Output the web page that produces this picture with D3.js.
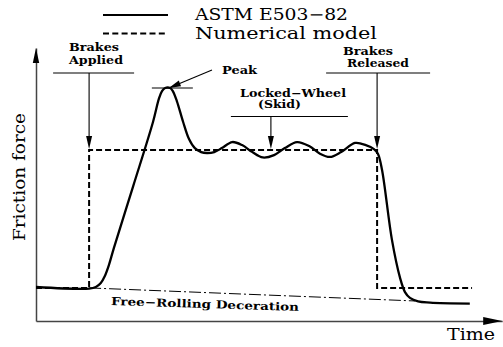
<!DOCTYPE html>
<html>
<head>
<meta charset="utf-8">
<script src="https://cdn.jsdelivr.net/npm/d3@7"></script>
<style>
  html, body { margin: 0; padding: 0; background: #fff; }
  svg { display: block; }
  text { font-family: "DejaVu Serif", serif; fill: #000; }
</style>
</head>
<body>
<div id="chart"></div>
<script>
(function(){
    // Data (time 0-100, friction 0-100 = peak)
    const astmTime = [0, 11.8, 13.3, 14.4, 15.3, 16.2, 17.3, 21.6, 26.0, 27.3, 28.0, 28.7, 29.8, 30.4, 31.3, 32.7,
        34.0, 35.3, 36.7, 38.0, 39.6, 41.3, 43.6, 45.8, 48.0, 50.4, 52.9, 55.3, 58.0, 60.7, 63.1, 65.3, 67.8,
        70.9, 73.3, 75.1, 76.0, 76.9, 79.1, 80.9, 82.0, 83.1, 84.9, 87.6, 96.4];
    const astmForce = [14.6, 13.9, 14.6, 16.3, 19.3, 24.0, 31.3, 57.9, 85.4, 95.3, 98.7, 100, 100, 98.7, 94.4, 85.4,
        78.1, 74.2, 72.5, 72.1, 72.5, 74.2, 76.8, 75.5, 72.6, 70.2, 71.2, 74.2, 76.8, 75.1, 71.8, 70.4, 72.5,
        76.4, 75.5, 73.8, 71.7, 64.8, 34.8, 18.5, 12.4, 9.9, 8.4, 7.9, 7.5];

    const modelTime = [0, 11.8, 11.8, 75.8, 75.8, 96.9];
    const modelForce = [14.2, 14.2, 73.4, 73.4, 14.2, 14.2];

    const rollingTime = [11.8, 84.2];
    const rollingForce = [14.2, 8.6];

    const legendLabels = ["ASTM E503-82", "Numerical model"];
    const eventTimes = { applied: 11.8, skid: 52.2, released: 75.8 };
    const peakTime = 29.3, peakForce = 100, skidForce = 73.4;

    const width = 503, height = 347;

    const svg = d3.select("#chart")
        .append("svg")
        .attr("width", width)
        .attr("height", height);

    const x = d3.scaleLinear().domain([0, 100]).range([36, 486]);
    const y = d3.scaleLinear().domain([0, 100]).range([321, 88]);

    const line = d3.line()
        .x(d => x(d[0]))
        .y(d => y(d[1]));

    function arrowHead(tx, ty, angle, len, half) {
        // angle: direction the arrow points to (radians)
        const bx = tx - Math.cos(angle) * len, by = ty - Math.sin(angle) * len;
        const px = -Math.sin(angle) * half, py = Math.cos(angle) * half;
        svg.append("path")
            .attr("d", `M${tx},${ty}L${bx + px},${by + py}L${bx - px},${by - py}Z`)
            .attr("fill", "#000");
    }

    // Axes
    const xAxisScale = x.copy().domain([0, 103.6]).range([x(0), x(103.6)]);
    const yAxisScale = y.copy().domain([0, 117.2]).range([y(0), y(117.2)]);

    svg.append("g")
        .attr("transform", `translate(0, ${y(0)})`)
        .call(d3.axisBottom(xAxisScale).ticks(0).tickSizeOuter(0))
        .call(g => g.select(".domain").attr("stroke", "#444").attr("stroke-width", 1.5));

    svg.append("g")
        .attr("transform", `translate(${x(0)}, 0)`)
        .call(d3.axisLeft(yAxisScale).ticks(0).tickSizeOuter(0))
        .call(g => g.select(".domain").attr("stroke", "#444").attr("stroke-width", 1.5));

    arrowHead(x(103.6), y(0), 0, 19, 4);
    arrowHead(x(0), y(117.2), -Math.PI / 2, 15, 3.2);

    // Free-rolling dash-dot line
    svg.append("path")
        .datum(rollingTime.map((t, i) => [t, rollingForce[i]]))
        .attr("fill", "none")
        .attr("stroke", "#000")
        .attr("stroke-width", 1)
        .attr("stroke-dasharray", "12,3,2,3")
        .attr("d", line);

    // Numerical model
    svg.append("path")
        .datum(modelTime.map((t, i) => [t, modelForce[i]]))
        .attr("fill", "none")
        .attr("stroke", "#000")
        .attr("stroke-width", 2)
        .attr("stroke-dasharray", "6,3")
        .attr("d", line);

    // ASTM curve
    svg.append("path")
        .datum(astmTime.map((t, i) => [t, astmForce[i]]))
        .attr("fill", "none")
        .attr("stroke", "#000")
        .attr("stroke-width", 2.3)
        .attr("stroke-linejoin", "round")
        .attr("d", line.curve(d3.curveCatmullRom.alpha(0.5)));

    // Annotations
    function eventMarker(t, barLeft, barRight, barY) {
        const ex = x(t);
        svg.append("line")
            .attr("x1", ex + barLeft).attr("x2", ex + barRight)
            .attr("y1", barY).attr("y2", barY)
            .attr("stroke", "#000").attr("stroke-width", 1.2);
        svg.append("line")
            .attr("x1", ex).attr("x2", ex)
            .attr("y1", barY).attr("y2", y(skidForce) - 10)
            .attr("stroke", "#000").attr("stroke-width", 1.1);
        arrowHead(ex, y(skidForce) - 1, Math.PI / 2, 13, 3);
    }

    eventMarker(eventTimes.applied, -36, 45, 73);
    eventMarker(eventTimes.released, -51, 53, 73);
    eventMarker(eventTimes.skid, -40, 77, 116.5);

    function label(txt, lx, ly, size, len, weight) {
        svg.append("text")
            .attr("x", lx).attr("y", ly)
            .attr("font-size", size)
            .attr("font-weight", weight || "normal")
            .attr("textLength", len)
            .attr("lengthAdjust", "spacingAndGlyphs")
            .text(txt);
    }

    label("Brakes", 69, 51, 10.5, 50, "bold");
    label("Applied", 69, 64, 10.5, 54, "bold");
    label("Brakes", 343, 55, 10.5, 50, "bold");
    label("Released", 347, 67, 10.5, 62, "bold");
    label("Locked\u2212Wheel", 240, 97, 10.5, 106, "bold");
    label("(Skid)", 258, 108, 10.5, 43, "bold");
    label("Peak", 222, 74, 10.5, 35, "bold");

    // Peak bar + arrow
    svg.append("line")
        .attr("x1", x(peakTime) - 16).attr("x2", x(peakTime) + 25)
        .attr("y1", y(peakForce)).attr("y2", y(peakForce))
        .attr("stroke", "#000").attr("stroke-width", 1.2);
    const px0 = 212, py0 = 70, px1 = x(peakTime) + 1, py1 = y(peakForce);
    svg.append("line")
        .attr("x1", px0).attr("y1", py0).attr("x2", px1).attr("y2", py1)
        .attr("stroke", "#000").attr("stroke-width", 1.1);
    arrowHead(px1, py1, Math.atan2(py1 - py0, px1 - px0), 12, 3);

    // Free-rolling label
    svg.append("text")
        .attr("transform", "translate(111,305) rotate(1.8)")
        .attr("font-size", 11)
        .attr("font-weight", "bold")
        .attr("textLength", 188)
        .attr("lengthAdjust", "spacingAndGlyphs")
        .text("Free\u2212Rolling Deceration");

    // Axis titles
    svg.append("text")
        .attr("transform", "translate(25,177) rotate(-90)")
        .attr("text-anchor", "middle")
        .attr("font-size", 16)
        .attr("textLength", 128)
        .attr("lengthAdjust", "spacingAndGlyphs")
        .text("Friction force");

    label("Time", 447, 340, 16, 48);

    // Legend
    const legend = svg.append("g");
    legendLabels.forEach((name, i) => {
        const ly = 15 + i * 18.5;
        legend.append("line")
            .attr("x1", 103).attr("x2", 168)
            .attr("y1", ly).attr("y2", ly)
            .attr("stroke", "#000")
            .attr("stroke-width", 2)
            .attr("stroke-dasharray", i === 1 ? "6,3.3" : null);
        legend.append("text")
            .attr("x", 195).attr("y", ly + 5)
            .attr("font-size", 16)
            .attr("textLength", i === 0 ? 153 : 182)
            .attr("lengthAdjust", "spacingAndGlyphs")
            .text(name.replace("-", "\u2212"));
    });
})();
</script>
</body>
</html>
